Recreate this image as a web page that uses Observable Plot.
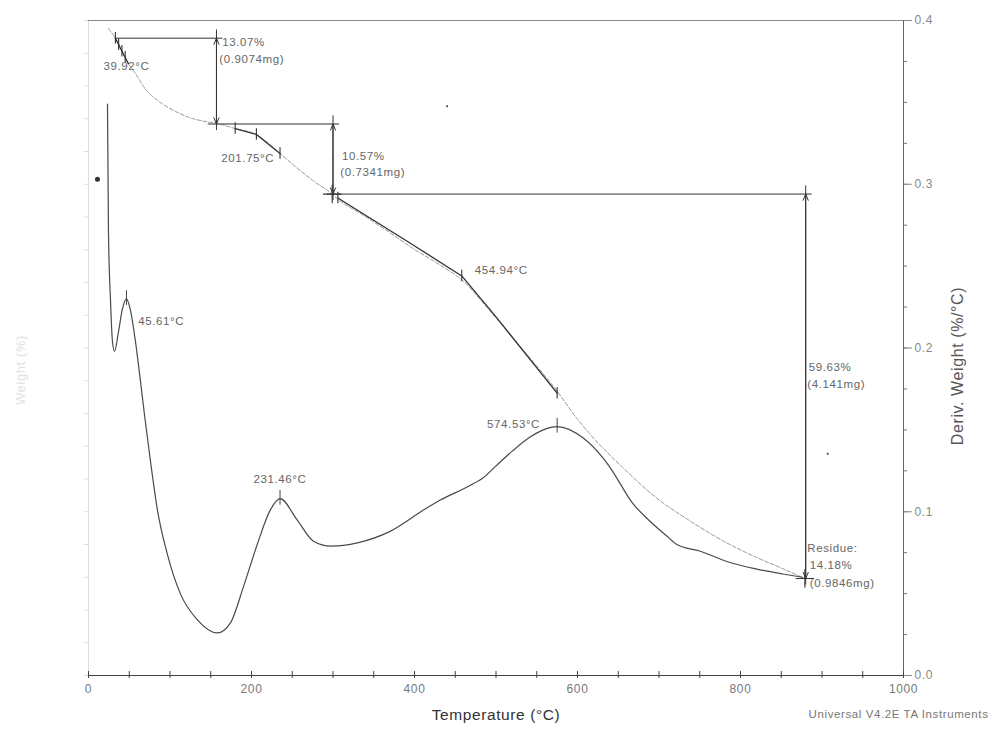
<!DOCTYPE html>
<html>
<head>
<meta charset="utf-8">
<script src="https://cdn.jsdelivr.net/npm/d3@7"></script>
<script src="https://cdn.jsdelivr.net/npm/@observablehq/plot@0.6"></script>
<style>
  body { margin: 0; background: #fff; font-family: "Liberation Sans", Arial, sans-serif; }
  #chart svg text { letter-spacing: 0.6px; }
</style>
</head>
<body>
<div id="chart"></div>
<script>
// ---- Weight curve (left axis, %) ----
const weightT = [24.5, 33, 49, 57.6, 70, 86, 107, 126, 147, 157, 180, 206, 235, 251, 276, 299, 306, 333, 364, 398, 431, 458, 493, 529, 575, 599, 615, 656, 697, 738, 778, 820, 852, 879];
const weightPct = [98.8, 97.3, 93.4, 91.9, 89.5, 87.7, 86.1, 85.1, 84.5, 84.3, 83.5, 82.6, 79.7, 78.0, 75.5, 73.5, 72.7, 70.6, 68.1, 65.2, 62.7, 60.4, 55.6, 50.3, 43.4, 39.3, 36.9, 31.7, 27.1, 23.6, 20.6, 18.0, 16.3, 14.8];

// ---- Derivative weight curve (right axis, %/°C) ----
const derivT = [23.3, 24.5, 27, 29.4, 31.9, 36.8, 41.7, 46.6, 51.5, 57.6, 63.7, 69, 76, 84.6, 96.8, 112.7, 133.6, 158, 174, 190, 207, 223, 235, 256, 276, 297, 330, 370, 411, 431, 468, 485, 500, 520, 540, 558, 575, 607, 631, 640, 668, 685, 710, 722, 750, 787, 820, 852, 876];
const derivVal = [0.349, 0.271, 0.229, 0.204, 0.198, 0.210, 0.224, 0.230, 0.223, 0.204, 0.180, 0.158, 0.131, 0.101, 0.074, 0.050, 0.034, 0.026, 0.032, 0.054, 0.080, 0.101, 0.108, 0.095, 0.082, 0.079, 0.081, 0.088, 0.101, 0.107, 0.116, 0.121, 0.128, 0.137, 0.145, 0.150, 0.152, 0.145, 0.133, 0.127, 0.105, 0.096, 0.085, 0.080, 0.076, 0.069, 0.065, 0.062, 0.060];

// ---- Analysis segments drawn over the weight curve ----
const segId = [1, 1, 1, 2, 2, 2, 3, 3, 3, 3, 3];
const segT = [33, 41, 49, 180, 206, 235, 306, 391, 458, 501, 575];
const segW = [97.3, 95.3, 93.4, 83.5, 82.6, 79.7, 72.9, 66.3, 61.0, 54.6, 43.1];
const markT = [33, 37, 41, 45, 180, 206, 235, 306, 458, 575];
const markW = [97.3, 96.3, 95.3, 94.4, 83.5, 82.6, 79.7, 72.9, 61.0, 43.1];
const crossT = [299, 879];
const crossW = [73.5, 14.8];
const peakT = [46.6, 235, 575];
const peakD = [0.230, 0.108, 0.152];

// ---- Weight-loss steps ----
const stepArrowT = [157, 300, 880];
const stepTopW = [97.3, 84.2, 73.5];
const stepBottomW = [84.2, 73.5, 14.8];
const stepLineFromT = [33, 147, 293];
const stepLineToT = [165, 308, 888];

// ---- Annotation texts ----
const labelText = ["39.92°C", "13.07%", "(0.9074mg)", "201.75°C", "10.57%", "(0.7341mg)", "454.94°C", "59.63%", "(4.141mg)", "45.61°C", "231.46°C", "574.53°C", "Residue:", "14.18%", "(0.9846mg)"];
const labelT = [18.4, 164, 160.5, 163, 311, 309, 474, 883.6, 882, 61, 235, 554, 882, 885, 885];
const labelD = [0.372, 0.3866, 0.3762, 0.3159, 0.3171, 0.3073, 0.2476, 0.1884, 0.178, 0.2165, 0.1201, 0.1537, 0.0774, 0.0671, 0.0561];
const labelAnchor = ["start", "start", "start", "start", "start", "start", "start", "start", "start", "start", "middle", "end", "start", "start", "start"];

// ---- Scan specks ----
const speckT = [11, 440, 907];
const speckD = [0.303, 0.3476, 0.1354];
const speckR = [2.5, 1, 1];

// ---- Axis ticks ----
const xTicks = [0, 200, 400, 600, 800, 1000];
const xMinor = d3.range(0, 1001, 50);
const yTicks = [0, 0.1, 0.2, 0.3, 0.4];
const yMinor = d3.range(0, 0.4001, 0.025);
const wMinor = d3.range(0, 100.1, 5);

const K = 250; // left axis 0–100 % spans the same height as right axis 0–0.4 %/°C

const weight = weightT.map((t, i) => ({t, d: weightPct[i] / K}));
const deriv = derivT.map((t, i) => ({t, d: derivVal[i]}));
const segs = segT.map((t, i) => ({id: segId[i], t, d: segW[i] / K}));
const marks = markT.map((t, i) => ({t, d: markW[i] / K}));
const crosses = crossT.map((t, i) => ({t, d: crossW[i] / K}));
const peaks = peakT.map((t, i) => ({t, d: peakD[i]}));
const steps = stepArrowT.map((t, i) => ({
  t, top: stepTopW[i] / K, bottom: stepBottomW[i] / K,
  mid: (stepTopW[i] + stepBottomW[i]) / 2 / K,
  from: stepLineFromT[i], to: stepLineToT[i]
}));
const labels = labelText.map((s, i) => ({s, t: labelT[i], d: labelD[i], a: labelAnchor[i]}));
const specks = speckT.map((t, i) => ({t, d: speckD[i], r: speckR[i]}));

const font = "Liberation Sans, Arial, sans-serif";
const annFill = "#666";
const annSize = 11.5;

const chart = Plot.plot({
  width: 991,
  height: 735,
  marginLeft: 88,
  marginRight: 88,
  marginTop: 20,
  marginBottom: 60,
  x: {domain: [0, 1000]},
  y: {domain: [0, 0.4]},
  r: {type: "identity"},
  style: {fontFamily: font, background: "white"},
  marks: [
    // frame
    Plot.ruleX([0], {stroke: "#ddd"}),
    Plot.ruleY([0.4], {stroke: "#888"}),
    Plot.ruleX([1000], {stroke: "#666"}),
    Plot.ruleY([0], {stroke: "#444"}),
    // faint left (weight) axis ticks
    Plot.axisY({anchor: "left", ticks: wMinor.map(w => w / K), tickSize: 4, tickFormat: () => "", color: "#ddd", label: null}),
    // x axis ticks (both sides) and labels
    Plot.axisX({ticks: xMinor, tickSize: 3, tickFormat: () => "", color: "#444", label: null}),
    Plot.axisX({ticks: xMinor, tickSize: -4, tickFormat: () => "", color: "#444", label: null}),
    Plot.axisX({ticks: xTicks, tickSize: 0, tickPadding: 9, fontSize: 12, tickFormat: d3.format("d"), color: "#777", label: null}),
    // right axis
    Plot.axisY({anchor: "right", ticks: yMinor, tickSize: 3, tickFormat: () => "", color: "#777", label: null}),
    Plot.axisY({anchor: "right", ticks: yTicks, tickSize: 8, tickPadding: 3, tickFormat: d3.format(".1f"), fontSize: 12, color: "#888", label: null}),
    // axis titles and footer
    Plot.text(["Deriv. Weight (%/°C)"], {frameAnchor: "right", textAnchor: "middle", dx: 54, dy: 18, rotate: -90, fontSize: 16, fill: "#555"}),
    Plot.text(["Weight (%)"], {frameAnchor: "left", textAnchor: "middle", dx: -68, dy: 22, rotate: -90, fontSize: 13, fill: "#e2e2e2"}),
    Plot.text(["Temperature (°C)"], {frameAnchor: "bottom", textAnchor: "middle", dy: 44, fontSize: 15.5, fill: "#333"}),
    Plot.text(["Universal V4.2E TA Instruments"], {frameAnchor: "bottom-right", dx: 85, dy: 42, textAnchor: "end", fontSize: 11.5, fill: "#777"}),
    // specks
    Plot.dot(specks, {x: "t", y: "d", r: "r", fill: "#333", stroke: null}),
    // curves
    Plot.line(weight, {x: "t", y: "d", stroke: "#9a9a9a", strokeWidth: 1, strokeDasharray: "4,2", curve: "monotone-x"}),
    Plot.line(deriv, {x: "t", y: "d", stroke: "#4a4a4a", strokeWidth: 1.2, curve: "monotone-x"}),
    // analysis segments
    Plot.line(segs, {x: "t", y: "d", z: "id", stroke: "#333", strokeWidth: 1.3}),
    Plot.ruleX(marks, {x: "t", y1: d => d.d - 0.0035, y2: d => d.d + 0.0035, stroke: "#333", strokeWidth: 1.1}),
    Plot.ruleX(peaks, {x: "t", y1: d => d.d - 0.004, y2: d => d.d + 0.005, stroke: "#444", strokeWidth: 1}),
    Plot.dot(crosses, {x: "t", y: "d", symbol: "plus", r: 6, stroke: "#333", strokeWidth: 1.1}),
    // step lines and arrows
    Plot.ruleY(steps, {y: "top", x1: "from", x2: "to", stroke: "#333", strokeWidth: 1}),
    Plot.ruleX(steps, {x: "t", y1: d => d.bottom - 0.004, y2: d => d.top + 0.005, stroke: "#333", strokeWidth: 1}),
    Plot.arrow(steps, {x1: "t", y1: "mid", x2: "t", y2: "top", headLength: 10, headAngle: 45, stroke: "#333", strokeWidth: 1}),
    Plot.arrow(steps, {x1: "t", y1: "mid", x2: "t", y2: "bottom", headLength: 10, headAngle: 45, stroke: "#333", strokeWidth: 1}),
    // annotations
    Plot.text(labels.filter(d => d.a === "start"), {x: "t", y: "d", text: "s", textAnchor: "start", fontSize: annSize, fill: annFill}),
    Plot.text(labels.filter(d => d.a === "middle"), {x: "t", y: "d", text: "s", textAnchor: "middle", fontSize: annSize, fill: annFill}),
    Plot.text(labels.filter(d => d.a === "end"), {x: "t", y: "d", text: "s", textAnchor: "end", fontSize: annSize, fill: annFill})
  ]
});
document.getElementById("chart").append(chart);
</script>
</body>
</html>
